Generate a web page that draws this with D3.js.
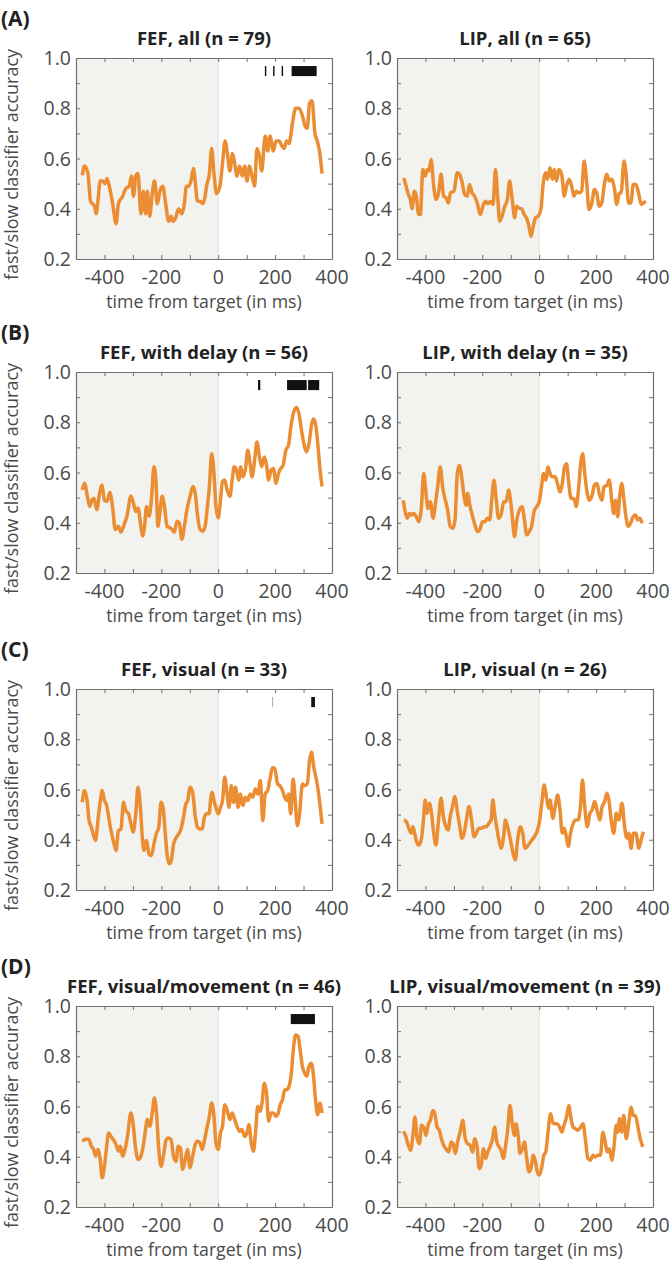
<!DOCTYPE html>
<html>
<head>
<meta charset="utf-8">
<script src="https://cdn.jsdelivr.net/npm/d3@7"></script>
<style>
  body { margin: 0; background: #fff; }
  svg { display: block; }
</style>
</head>
<body>
<div id="container"></div>
<script>
let w = 671;
let h = 1264;

// DATA  [time from target (ms), fast/slow classifier accuracy]
let fefAll = [[-478,0.533],[-470,0.57],[-458,0.54],[-449,0.43],[-435,0.41],[-429,0.38],[-423,0.43],[-415,0.51],[-406,0.51],[-398,0.50],[-391,0.52],[-383,0.49],[-371,0.42],[-359,0.34],[-351,0.42],[-336,0.45],[-325,0.48],[-313,0.49],[-305,0.53],[-298,0.45],[-290,0.53],[-282,0.54],[-272,0.38],[-263,0.47],[-255,0.38],[-249,0.47],[-241,0.37],[-232,0.46],[-224,0.51],[-214,0.42],[-205,0.47],[-195,0.49],[-186,0.43],[-174,0.35],[-166,0.37],[-159,0.35],[-151,0.36],[-139,0.40],[-128,0.38],[-119,0.42],[-112,0.49],[-104,0.49],[-96,0.51],[-87,0.56],[-81,0.51],[-73,0.43],[-64,0.43],[-54,0.42],[-46,0.45],[-41,0.49],[-31,0.54],[-23,0.64],[-15,0.54],[-6,0.46],[6,0.49],[15,0.58],[24,0.67],[32,0.62],[41,0.55],[50,0.62],[58,0.58],[66,0.53],[75,0.57],[85,0.53],[93,0.57],[101,0.51],[110,0.57],[119,0.53],[128,0.49],[136,0.64],[145,0.61],[153,0.55],[165,0.69],[174,0.63],[182,0.69],[194,0.63],[203,0.67],[214,0.67],[224,0.65],[232,0.64],[240,0.67],[249,0.66],[261,0.74],[272,0.80],[284,0.80],[296,0.77],[305,0.73],[313,0.72],[321,0.82],[330,0.83],[340,0.70],[348,0.67],[356,0.63],[365,0.54]];
let lipAll = [[-476,0.523],[-468,0.49],[-460,0.457],[-453,0.437],[-447,0.40],[-439,0.47],[-432,0.45],[-425,0.38],[-418,0.377],[-409,0.556],[-401,0.53],[-394,0.556],[-388,0.55],[-380,0.596],[-371,0.49],[-362,0.437],[-354,0.463],[-345,0.537],[-336,0.45],[-327,0.443],[-319,0.423],[-312,0.463],[-300,0.47],[-288,0.543],[-280,0.537],[-272,0.51],[-262,0.457],[-253,0.45],[-245,0.497],[-236,0.463],[-227,0.45],[-218,0.423],[-207,0.377],[-198,0.41],[-189,0.43],[-180,0.42],[-171,0.43],[-162,0.417],[-154,0.556],[-147,0.463],[-139,0.35],[-131,0.37],[-121,0.41],[-112,0.437],[-104,0.51],[-95,0.437],[-86,0.364],[-80,0.41],[-72,0.403],[-62,0.40],[-53,0.377],[-45,0.364],[-36,0.33],[-29,0.29],[-21,0.33],[-13,0.364],[-4,0.37],[6,0.397],[14,0.503],[22,0.543],[29,0.517],[38,0.563],[46,0.517],[53,0.556],[61,0.51],[69,0.556],[79,0.537],[88,0.45],[96,0.49],[105,0.517],[114,0.49],[122,0.45],[132,0.47],[140,0.463],[149,0.47],[158,0.59],[167,0.503],[175,0.397],[185,0.423],[194,0.477],[202,0.463],[211,0.41],[220,0.423],[228,0.49],[238,0.537],[246,0.51],[255,0.517],[264,0.483],[273,0.417],[281,0.463],[288,0.463],[298,0.59],[305,0.543],[314,0.423],[322,0.423],[331,0.497],[340,0.497],[349,0.463],[359,0.417],[367,0.423],[375,0.43]];
let fefDelay = [[-478,0.531],[-470,0.557],[-460,0.505],[-452,0.465],[-444,0.49],[-437,0.498],[-427,0.452],[-417,0.518],[-409,0.55],[-400,0.49],[-391,0.485],[-381,0.52],[-371,0.459],[-362,0.373],[-351,0.386],[-342,0.363],[-333,0.386],[-321,0.426],[-307,0.505],[-298,0.478],[-290,0.445],[-282,0.459],[-272,0.386],[-266,0.347],[-259,0.386],[-252,0.465],[-243,0.426],[-235,0.49],[-226,0.623],[-219,0.57],[-212,0.386],[-205,0.44],[-197,0.505],[-189,0.465],[-180,0.386],[-170,0.38],[-162,0.373],[-154,0.363],[-145,0.406],[-137,0.40],[-128,0.334],[-119,0.386],[-110,0.452],[-99,0.505],[-89,0.544],[-81,0.518],[-73,0.432],[-64,0.373],[-54,0.367],[-46,0.386],[-38,0.465],[-31,0.544],[-23,0.675],[-15,0.597],[-8,0.465],[0,0.419],[8,0.49],[15,0.564],[23,0.57],[31,0.531],[41,0.505],[49,0.57],[56,0.623],[64,0.61],[72,0.57],[79,0.623],[87,0.583],[96,0.616],[104,0.689],[112,0.636],[119,0.583],[128,0.649],[136,0.721],[145,0.662],[153,0.623],[162,0.662],[170,0.629],[177,0.57],[186,0.61],[194,0.616],[203,0.557],[212,0.597],[220,0.616],[228,0.629],[238,0.689],[247,0.708],[256,0.787],[267,0.846],[276,0.859],[284,0.833],[292,0.774],[301,0.715],[310,0.682],[319,0.715],[327,0.781],[334,0.813],[342,0.794],[350,0.715],[357,0.623],[365,0.544]];
let lipDelay = [[-478,0.49],[-470,0.437],[-464,0.418],[-456,0.437],[-449,0.431],[-441,0.437],[-432,0.424],[-423,0.404],[-415,0.45],[-406,0.596],[-398,0.516],[-391,0.457],[-383,0.484],[-373,0.418],[-365,0.477],[-357,0.543],[-348,0.622],[-339,0.536],[-330,0.49],[-322,0.45],[-313,0.385],[-304,0.378],[-296,0.411],[-288,0.596],[-281,0.628],[-272,0.576],[-264,0.503],[-257,0.47],[-252,0.516],[-243,0.464],[-234,0.424],[-226,0.391],[-217,0.365],[-209,0.372],[-199,0.404],[-191,0.404],[-183,0.418],[-174,0.411],[-166,0.503],[-159,0.569],[-151,0.49],[-143,0.418],[-133,0.437],[-125,0.484],[-116,0.484],[-108,0.53],[-101,0.49],[-93,0.404],[-87,0.345],[-79,0.411],[-70,0.45],[-60,0.464],[-52,0.411],[-44,0.352],[-35,0.365],[-27,0.385],[-17,0.45],[-9,0.464],[0,0.484],[8,0.543],[15,0.596],[23,0.57],[31,0.622],[38,0.596],[46,0.583],[56,0.583],[64,0.556],[73,0.523],[81,0.556],[89,0.622],[96,0.635],[104,0.556],[112,0.497],[122,0.497],[130,0.464],[139,0.543],[147,0.648],[153,0.675],[160,0.596],[168,0.523],[176,0.49],[186,0.51],[194,0.549],[203,0.556],[211,0.516],[220,0.49],[228,0.543],[238,0.549],[246,0.57],[255,0.49],[262,0.437],[269,0.49],[276,0.424],[284,0.516],[290,0.556],[298,0.49],[305,0.424],[313,0.385],[321,0.398],[330,0.424],[339,0.431],[346,0.411],[354,0.418],[362,0.398]];
let fefVis = [[-478,0.549],[-470,0.596],[-461,0.556],[-454,0.476],[-446,0.45],[-438,0.416],[-431,0.397],[-423,0.476],[-415,0.549],[-408,0.596],[-400,0.556],[-392,0.536],[-385,0.489],[-377,0.436],[-369,0.397],[-359,0.357],[-351,0.436],[-342,0.443],[-333,0.549],[-325,0.516],[-315,0.503],[-307,0.463],[-299,0.43],[-290,0.503],[-282,0.609],[-272,0.503],[-267,0.41],[-261,0.357],[-253,0.397],[-243,0.343],[-235,0.337],[-226,0.383],[-218,0.423],[-209,0.45],[-201,0.549],[-194,0.529],[-186,0.423],[-180,0.343],[-172,0.304],[-165,0.317],[-157,0.383],[-147,0.41],[-139,0.423],[-131,0.443],[-122,0.489],[-114,0.542],[-107,0.556],[-99,0.609],[-90,0.589],[-81,0.496],[-73,0.45],[-64,0.443],[-56,0.443],[-49,0.489],[-41,0.503],[-32,0.503],[-27,0.556],[-21,0.589],[-15,0.556],[-8,0.529],[0,0.503],[8,0.529],[15,0.556],[23,0.649],[31,0.582],[38,0.529],[46,0.615],[54,0.549],[61,0.609],[70,0.529],[78,0.582],[87,0.536],[95,0.569],[104,0.556],[112,0.582],[122,0.569],[130,0.602],[139,0.582],[148,0.635],[157,0.476],[165,0.582],[174,0.596],[182,0.642],[191,0.688],[199,0.682],[209,0.622],[217,0.615],[226,0.596],[234,0.569],[241,0.556],[247,0.582],[255,0.503],[263,0.642],[270,0.569],[278,0.456],[286,0.503],[296,0.622],[304,0.615],[313,0.622],[321,0.715],[328,0.748],[336,0.688],[348,0.622],[356,0.556],[365,0.463]];
let lipVis = [[-476,0.479],[-467,0.472],[-459,0.446],[-450,0.426],[-444,0.452],[-438,0.426],[-433,0.399],[-424,0.379],[-415,0.399],[-407,0.479],[-401,0.558],[-394,0.505],[-386,0.545],[-378,0.499],[-371,0.426],[-363,0.379],[-355,0.466],[-345,0.565],[-337,0.492],[-328,0.452],[-320,0.439],[-313,0.492],[-305,0.532],[-297,0.572],[-287,0.505],[-279,0.452],[-272,0.406],[-264,0.426],[-256,0.479],[-247,0.532],[-238,0.479],[-229,0.412],[-221,0.426],[-212,0.446],[-203,0.446],[-194,0.452],[-186,0.452],[-177,0.466],[-169,0.479],[-163,0.558],[-157,0.505],[-148,0.439],[-142,0.399],[-134,0.366],[-124,0.426],[-119,0.479],[-110,0.446],[-101,0.399],[-92,0.346],[-84,0.32],[-76,0.399],[-66,0.452],[-58,0.426],[-50,0.366],[-43,0.372],[-34,0.386],[-26,0.399],[-17,0.412],[-8,0.432],[0,0.466],[9,0.545],[17,0.618],[27,0.558],[33,0.525],[38,0.558],[48,0.485],[56,0.532],[65,0.578],[73,0.519],[81,0.426],[88,0.446],[94,0.419],[102,0.373],[110,0.426],[120,0.466],[128,0.479],[137,0.479],[145,0.532],[152,0.638],[160,0.532],[169,0.452],[178,0.505],[186,0.519],[195,0.552],[203,0.519],[213,0.479],[221,0.532],[230,0.552],[238,0.585],[245,0.558],[253,0.479],[262,0.426],[271,0.505],[280,0.479],[291,0.545],[300,0.452],[308,0.406],[315,0.426],[323,0.366],[331,0.426],[340,0.426],[350,0.366],[358,0.399],[366,0.432]];
let fefVisMov = [[-478,0.462],[-470,0.468],[-461,0.471],[-454,0.468],[-446,0.442],[-438,0.429],[-431,0.402],[-423,0.429],[-415,0.389],[-408,0.316],[-400,0.362],[-392,0.442],[-385,0.495],[-377,0.481],[-369,0.468],[-359,0.448],[-351,0.422],[-344,0.442],[-336,0.402],[-328,0.429],[-319,0.481],[-307,0.574],[-299,0.528],[-290,0.429],[-282,0.389],[-272,0.402],[-264,0.442],[-257,0.495],[-249,0.548],[-241,0.521],[-232,0.574],[-224,0.634],[-217,0.574],[-209,0.429],[-201,0.362],[-191,0.415],[-183,0.468],[-174,0.475],[-166,0.468],[-157,0.402],[-148,0.382],[-141,0.442],[-133,0.435],[-125,0.349],[-116,0.389],[-108,0.429],[-99,0.356],[-90,0.402],[-81,0.448],[-73,0.462],[-64,0.455],[-56,0.429],[-49,0.462],[-41,0.508],[-31,0.561],[-23,0.614],[-15,0.561],[-8,0.455],[0,0.429],[8,0.495],[15,0.521],[23,0.607],[31,0.587],[41,0.548],[49,0.574],[58,0.548],[66,0.521],[75,0.501],[83,0.508],[93,0.481],[101,0.495],[108,0.528],[116,0.455],[124,0.422],[131,0.495],[139,0.601],[147,0.581],[154,0.614],[162,0.693],[170,0.653],[177,0.541],[186,0.574],[194,0.574],[203,0.561],[211,0.574],[218,0.607],[226,0.627],[234,0.667],[241,0.667],[249,0.68],[257,0.733],[264,0.825],[272,0.885],[281,0.878],[288,0.825],[296,0.759],[304,0.733],[311,0.72],[319,0.759],[327,0.772],[334,0.733],[342,0.627],[350,0.567],[357,0.614],[365,0.574]];
let lipVisMov = [[-478,0.501],[-470,0.485],[-462,0.452],[-452,0.426],[-444,0.485],[-437,0.558],[-429,0.472],[-421,0.452],[-414,0.525],[-406,0.518],[-398,0.485],[-391,0.525],[-383,0.545],[-374,0.584],[-367,0.571],[-359,0.518],[-351,0.505],[-344,0.472],[-336,0.446],[-328,0.432],[-318,0.419],[-310,0.459],[-303,0.452],[-295,0.413],[-287,0.459],[-278,0.498],[-269,0.545],[-260,0.472],[-252,0.452],[-243,0.446],[-234,0.419],[-227,0.472],[-219,0.446],[-211,0.353],[-204,0.366],[-196,0.432],[-188,0.393],[-181,0.419],[-173,0.439],[-164,0.472],[-157,0.518],[-149,0.459],[-141,0.439],[-134,0.426],[-126,0.393],[-118,0.446],[-111,0.505],[-103,0.604],[-94,0.525],[-87,0.485],[-82,0.531],[-73,0.472],[-68,0.413],[-59,0.432],[-52,0.459],[-44,0.393],[-36,0.34],[-29,0.353],[-21,0.406],[-13,0.38],[-7,0.34],[0,0.327],[8,0.353],[16,0.406],[23,0.419],[31,0.498],[40,0.571],[47,0.538],[55,0.531],[63,0.531],[72,0.518],[80,0.498],[87,0.525],[96,0.558],[104,0.604],[111,0.558],[119,0.518],[127,0.512],[136,0.505],[145,0.518],[154,0.531],[162,0.472],[171,0.393],[180,0.386],[189,0.406],[197,0.399],[206,0.406],[215,0.406],[224,0.498],[232,0.459],[239,0.419],[247,0.432],[255,0.386],[262,0.432],[271,0.525],[276,0.498],[282,0.551],[290,0.498],[297,0.564],[306,0.472],[314,0.525],[323,0.597],[331,0.564],[338,0.564],[346,0.525],[355,0.472],[364,0.439]];

let seriesList = [fefAll, lipAll, fefDelay, lipDelay, fefVis, lipVis, fefVisMov, lipVisMov];
let titles = ["FEF, all (n = 79)", "LIP, all (n = 65)",
              "FEF, with delay (n = 56)", "LIP, with delay (n = 35)",
              "FEF, visual (n = 33)", "LIP, visual (n = 26)",
              "FEF, visual/movement (n = 46)", "LIP, visual/movement (n = 39)"];
let rowLabels = ["(A)", "(B)", "(C)", "(D)"];

// significant time windows (ms) per panel, drawn as black bars near the top
let sigWindows = [
  [[164,169],[193,198],[223,228],[258,346]], [],
  [[140,148],[242,311],[316,355]], [],
  [[327,340]], [],
  [[255,340]], []
];
// faint (gray) marks
let faintWindows = [[], [], [], [], [[190,193]], [], [], []];

let xTicks = [-400, -200, 0, 200, 400];
let yTicks = [0.2, 0.4, 0.6, 0.8, 1.0];

// LAYOUT
let colX = [76, 397];
let rowY = [58, 372, 689, 1006];
let pw = 256;
let ph = 201;

let orange = "#eb8d32";
let axisColor = "#707070";
let textColor = "#4a4a4a";

let viz = d3.select("#container").append("svg")
    .attr("width", w)
    .attr("height", h)
    .style("font-family", "'Open Sans', sans-serif");

let xScale = d3.scaleLinear().domain([-500, 400]).range([0, pw]);
let yScale = d3.scaleLinear().domain([0.2, 1.0]).range([ph, 0]);

let lineMaker = d3.line()
    .x(function(d){ return xScale(d[0]); })
    .y(function(d){ return yScale(d[1]); })
    .curve(d3.curveMonotoneX);

// row labels
rowLabels.forEach(function(lab, r){
  viz.append("text")
    .text(lab)
    .attr("x", 1)
    .attr("y", rowY[r] - 32)
    .style("font-size", "21px")
    .style("font-weight", "bold")
    .attr("fill", "#222");

  // y axis label
  viz.append("text")
    .text("fast/slow classifier accuracy")
    .attr("transform", "translate(18," + (rowY[r] + ph/2 + 6) + ") rotate(-90)")
    .attr("text-anchor", "middle")
    .style("font-size", "18px")
    .attr("fill", textColor);
});

seriesList.forEach(function(data, i){
  let r = Math.floor(i / 2);
  let c = i % 2;
  let g = viz.append("g")
    .attr("transform", "translate(" + colX[c] + "," + rowY[r] + ")");

  // baseline period shading
  g.append("rect")
    .attr("x", xScale(-500))
    .attr("y", 0)
    .attr("width", xScale(0) - xScale(-500))
    .attr("height", ph)
    .attr("fill", "#f2f2ef");
  g.append("line")
    .attr("x1", xScale(0)).attr("x2", xScale(0))
    .attr("y1", 0).attr("y2", ph)
    .attr("stroke", "#e2e2df")
    .attr("stroke-width", 1);

  // axes (box with inward ticks)
  let xAxisB = d3.axisBottom(xScale).tickValues(d3.range(-500, 401, 100)).tickSize(-4).tickSizeOuter(0).tickFormat("");
  let xAxisT = d3.axisTop(xScale).tickValues(d3.range(-500, 401, 100)).tickSize(-4).tickSizeOuter(0).tickFormat("");
  let yAxisL = d3.axisLeft(yScale).tickValues(d3.range(0.2, 1.01, 0.1)).tickSize(-4).tickSizeOuter(0).tickFormat("");
  let yAxisR = d3.axisRight(yScale).tickValues(d3.range(0.2, 1.01, 0.1)).tickSize(-4).tickSizeOuter(0).tickFormat("");

  g.append("g").attr("transform", "translate(0," + ph + ")").call(xAxisB);
  g.append("g").call(xAxisT);
  g.append("g").call(yAxisL);
  g.append("g").attr("transform", "translate(" + pw + ",0)").call(yAxisR);
  g.selectAll(".domain").attr("stroke", axisColor).attr("stroke-width", 1.2);
  g.selectAll(".tick line").attr("stroke", axisColor).attr("stroke-width", 1);

  // tick labels
  g.selectAll(".xlab").data(xTicks).enter()
    .append("text")
      .attr("class", "xlab")
      .text(function(d){ return d; })
      .attr("x", function(d){ return xScale(d); })
      .attr("y", ph + 25)
      .attr("text-anchor", "middle")
      .style("font-size", "19.5px")
      .attr("fill", textColor);
  g.selectAll(".ylab").data(yTicks).enter()
    .append("text")
      .attr("class", "ylab")
      .text(function(d){ return d.toFixed(1); })
      .attr("x", -5)
      .attr("y", function(d){ return yScale(d) + 7; })
      .attr("text-anchor", "end")
      .style("font-size", "19.5px")
      .attr("fill", textColor);

  // x axis title
  g.append("text")
    .text("time from target (in ms)")
    .attr("x", pw/2)
    .attr("y", ph + 49)
    .attr("text-anchor", "middle")
    .style("font-size", "17.7px")
    .attr("fill", textColor);

  // panel title
  g.append("text")
    .text(titles[i])
    .attr("x", pw/2)
    .attr("y", -13)
    .attr("text-anchor", "middle")
    .style("font-size", "18.5px")
    .style("font-weight", "bold")
    .attr("fill", "#222");

  // significance bars
  g.selectAll(".sig").data(sigWindows[i]).enter()
    .append("rect")
      .attr("class", "sig")
      .attr("x", function(d){ return xScale(d[0]); })
      .attr("width", function(d){ return xScale(d[1]) - xScale(d[0]); })
      .attr("y", yScale(0.968))
      .attr("height", yScale(0.928) - yScale(0.968))
      .attr("fill", "#111");
  g.selectAll(".faint").data(faintWindows[i]).enter()
    .append("rect")
      .attr("class", "faint")
      .attr("x", function(d){ return xScale(d[0]); })
      .attr("width", function(d){ return xScale(d[1]) - xScale(d[0]); })
      .attr("y", yScale(0.968))
      .attr("height", yScale(0.928) - yScale(0.968))
      .attr("fill", "#999");

  // accuracy trace
  g.append("path")
    .datum(data)
    .attr("d", lineMaker)
    .attr("fill", "none")
    .attr("stroke", orange)
    .attr("stroke-width", 3.5)
    .attr("stroke-linejoin", "round");
});
</script>
</body>
</html>
